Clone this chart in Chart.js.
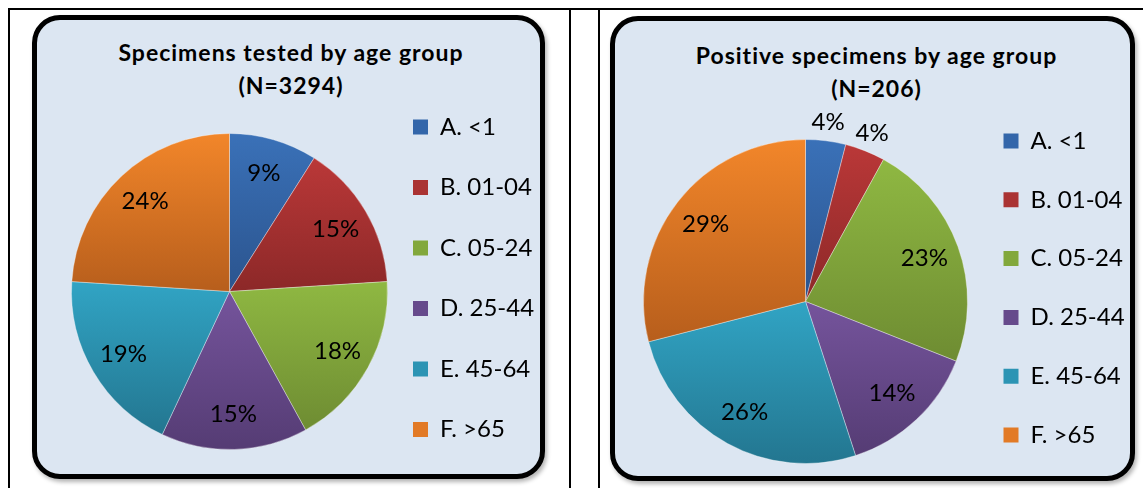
<!DOCTYPE html>
<html>
<head>
<meta charset="utf-8">
<script src="https://cdn.jsdelivr.net/npm/chart.js@4"></script>
<style>
  html, body { margin: 0; padding: 0; background: #fff; overflow: hidden; width: 1143px; height: 488px; }
  .rule { position: absolute; background: #000; }
  .panel { position: absolute; box-sizing: border-box; border: 5px solid #000; border-radius: 28px;
           background: #dce6f2; box-shadow: 2px 3px 4px rgba(0,0,0,0.3); }
  .title { position: absolute; width: 500px; text-align: center; font: bold 23px Lato, sans-serif;
           letter-spacing: 1px; line-height: 33px; color: #000; white-space: nowrap; }
  canvas { position: absolute; }
</style>
</head>
<body>
<div class="rule" style="left:8px;top:8px;width:1135px;height:2px"></div>
<div class="rule" style="left:8px;top:8px;width:2px;height:480px"></div>
<div class="rule" style="left:569px;top:8px;width:2px;height:480px"></div>
<div class="rule" style="left:598px;top:8px;width:2px;height:480px"></div>
<div class="panel" style="left:32px;top:15px;width:513px;height:464px"></div>
<div class="panel" style="left:610px;top:16px;width:525px;height:465px"></div>
<div class="title" id="testedTitle" style="left:41px;top:35.5px"></div>
<div class="title" id="positiveTitle" style="left:626.5px;top:38.5px"></div>
<canvas id="tested" width="540" height="485" style="left:37px;top:20px"></canvas>
<canvas id="positive" width="540" height="488" style="left:615px;top:21px"></canvas>
<script>
// age groups and share of each (percent)
const ageGroups = ['A. <1', 'B. 01-04', 'C. 05-24', 'D. 25-44', 'E. 45-64', 'F. >65'];
const testedPct = [9, 15, 18, 15, 19, 24];
const positivePct = [4, 4, 23, 14, 26, 29];
const testedTitle = ['Specimens tested by age group', '(N=3294)'];
const positiveTitle = ['Positive specimens by age group', '(N=206)'];

// office-style gradient colours: top (light) -> bottom (dark)
const lightCols = ['#3a71b8', '#ba3838', '#8fb842', '#75549c', '#31a4c4', '#f2862a'];
const darkCols = ['#2b548e', '#8c2828', '#6e8c32', '#553c74', '#237690', '#b75e1c'];
const legendCols = ['#3366aa', '#aa3333', '#82a83c', '#664a8c', '#2c94b4', '#e27a26'];

const LEGEND_FONT = 24;
const BOX = 15;

document.getElementById('testedTitle').innerHTML = testedTitle.join('<br>');
document.getElementById('positiveTitle').innerHTML = positiveTitle.join('<br>');

// each slice gets its own vertical gradient over its bounding box
function sliceGradient(c) {
  const chart = c.chart, area = chart.chartArea;
  if (!area) return legendCols[c.dataIndex];
  const data = c.dataset.data;
  const total = data.reduce((a, b) => a + b, 0);
  let before = 0;
  for (let i = 0; i < c.dataIndex; i++) before += data[i];
  const a0 = -Math.PI / 2 + 2 * Math.PI * before / total;
  const a1 = a0 + 2 * Math.PI * data[c.dataIndex] / total;
  const cx = (area.left + area.right) / 2, cy = (area.top + area.bottom) / 2, r = c.dataset.radius;
  const ys = [cy, cy + r * Math.sin(a0), cy + r * Math.sin(a1)];
  [-Math.PI / 2, Math.PI / 2, 3 * Math.PI / 2].forEach(a => { if (a > a0 && a < a1) ys.push(cy + r * Math.sin(a)); });
  const g = chart.ctx.createLinearGradient(0, Math.min(...ys), 0, Math.max(...ys));
  g.addColorStop(0, lightCols[c.dataIndex]);
  g.addColorStop(1, darkCols[c.dataIndex]);
  return g;
}

// percent labels, small slices are put just outside the pie
const pctLabels = {
  id: 'pctLabels',
  afterDatasetsDraw(chart, args, opts) {
    const ctx = chart.ctx;
    const data = chart.data.datasets[0].data;
    ctx.save();
    ctx.font = opts.font;
    ctx.fillStyle = '#000';
    ctx.textAlign = 'center';
    ctx.textBaseline = 'middle';
    chart.getDatasetMeta(0).data.forEach((arc, i) => {
      const p = arc.getProps(['x', 'y', 'startAngle', 'endAngle', 'outerRadius'], true);
      const mid = (p.startAngle + p.endAngle) / 2;
      const share = (p.endAngle - p.startAngle) / (2 * Math.PI);
      const d = share < 0.06 ? p.outerRadius + opts.outside : p.outerRadius * opts.inside;
      ctx.fillText(data[i] + '%', p.x + Math.cos(mid) * d, p.y + Math.sin(mid) * d);
    });
    ctx.restore();
  }
};

// width the legend box will take (same formula chart.js uses)
function legendWidth(pad) {
  const m = document.createElement('canvas').getContext('2d');
  m.font = LEGEND_FONT + 'px Lato';
  const w = Math.max(...ageGroups.map(t => m.measureText(t).width));
  return pad + BOX + LEGEND_FONT / 2 + w + 10;
}

function makePie(id, values, s) {
  const canvas = document.getElementById(id);
  // s.legendLeft / s.areaLeft are in canvas pixels
  const right = canvas.width - s.legendLeft - legendWidth(s.legendPad);
  new Chart(canvas, {
    type: 'pie',
    data: {
      labels: ageGroups,
      datasets: [{
        data: values,
        radius: s.radius,
        clip: false,
        backgroundColor: sliceGradient,
        borderColor: 'rgba(255,255,255,0.35)',
        borderWidth: 1
      }]
    },
    plugins: [pctLabels],
    options: {
      responsive: false,
      animation: false,
      events: [],
      layout: { padding: { left: s.areaLeft, right: right, top: s.top, bottom: canvas.height - s.bottom } },
      plugins: {
        title: { display: false },
        legend: {
          position: 'right',
          align: 'start',
          fullSize: false,
          labels: {
            color: '#000',
            font: { family: 'Lato', size: LEGEND_FONT },
            boxWidth: BOX,
            boxHeight: BOX,
            padding: s.legendPad,
            generateLabels(chart) {
              const items = Chart.overrides.doughnut.plugins.legend.labels.generateLabels(chart);
              items.forEach((it, i) => { it.fillStyle = legendCols[i]; it.lineWidth = 0; it.strokeStyle = 'rgba(0,0,0,0)'; });
              return items;
            }
          }
        },
        tooltip: { enabled: false },
        pctLabels: { font: '24px Lato', inside: 0.78, outside: 19 }
      }
    }
  });
}

makePie('tested', testedPct, {
  radius: 158,
  areaLeft: 45.5,
  legendLeft: 339.5,
  top: 58.5,
  bottom: 484.5,
  legendPad: 36.5
});

makePie('positive', positivePct, {
  radius: 162,
  areaLeft: 27.3,
  legendLeft: 353.7,
  top: 73.2,
  bottom: 487.8,
  legendPad: 34.8
});
</script>
</body>
</html>
